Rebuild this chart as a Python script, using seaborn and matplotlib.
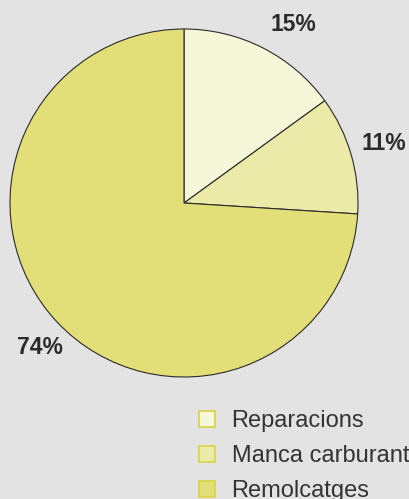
import matplotlib
matplotlib.use("Agg")
import matplotlib.pyplot as plt
import seaborn as sns

categories = ["Reparacions", "Manca carburant", "Remolcatges"]
shares = [15, 11, 74]
labels = ["15%", "11%", "74%"]
colors = ["#f6f6d8", "#ebeaa8", "#e3df78"]

sns.set_theme(style="white")
plt.rcParams['font.family'] = ['Liberation Sans', 'DejaVu Sans']

W, H = 409, 499
fig = plt.figure(figsize=(W / 100, H / 100), dpi=100)
fig.patch.set_facecolor("#e3e3e3")
ax = fig.add_axes([0, 0, 1, 1])

pal = sns.color_palette(colors)
wedges, _ = ax.pie(shares, colors=pal, startangle=90, counterclock=False,
                   center=(184, H - 203), radius=174, frame=True,
                   wedgeprops=dict(edgecolor="#2a2a2a", linewidth=0.8))
ax.set_xlim(0, W)
ax.set_ylim(0, H)
ax.set_aspect("equal")
ax.axis("off")

# percentage labels outside the wedges (pixel positions from the top)
label_pos = [(293, 24), (384, 143), (40, 347)]
for (x, y), t in zip(label_pos, labels):
    ax.text(x, H - y, t, ha="center", va="center", fontsize=16.5, fontweight="bold",
            color="#2b2b2b")

handles = [plt.Rectangle((0, 0), 1, 1, facecolor=c, edgecolor="#d9d345", linewidth=1.2)
           for c in colors]
leg = fig.legend(handles, categories, loc="upper left", bbox_to_anchor=(199 / W, 1 - 410 / H),
                 frameon=False, fontsize=17, handlelength=0.68, handleheight=0.68,
                 handletextpad=0.7, labelspacing=0.56, borderaxespad=0, borderpad=0)
for t in leg.get_texts():
    t.set_color("#333333")

fig.savefig("out.png", dpi=100, facecolor=fig.get_facecolor())
